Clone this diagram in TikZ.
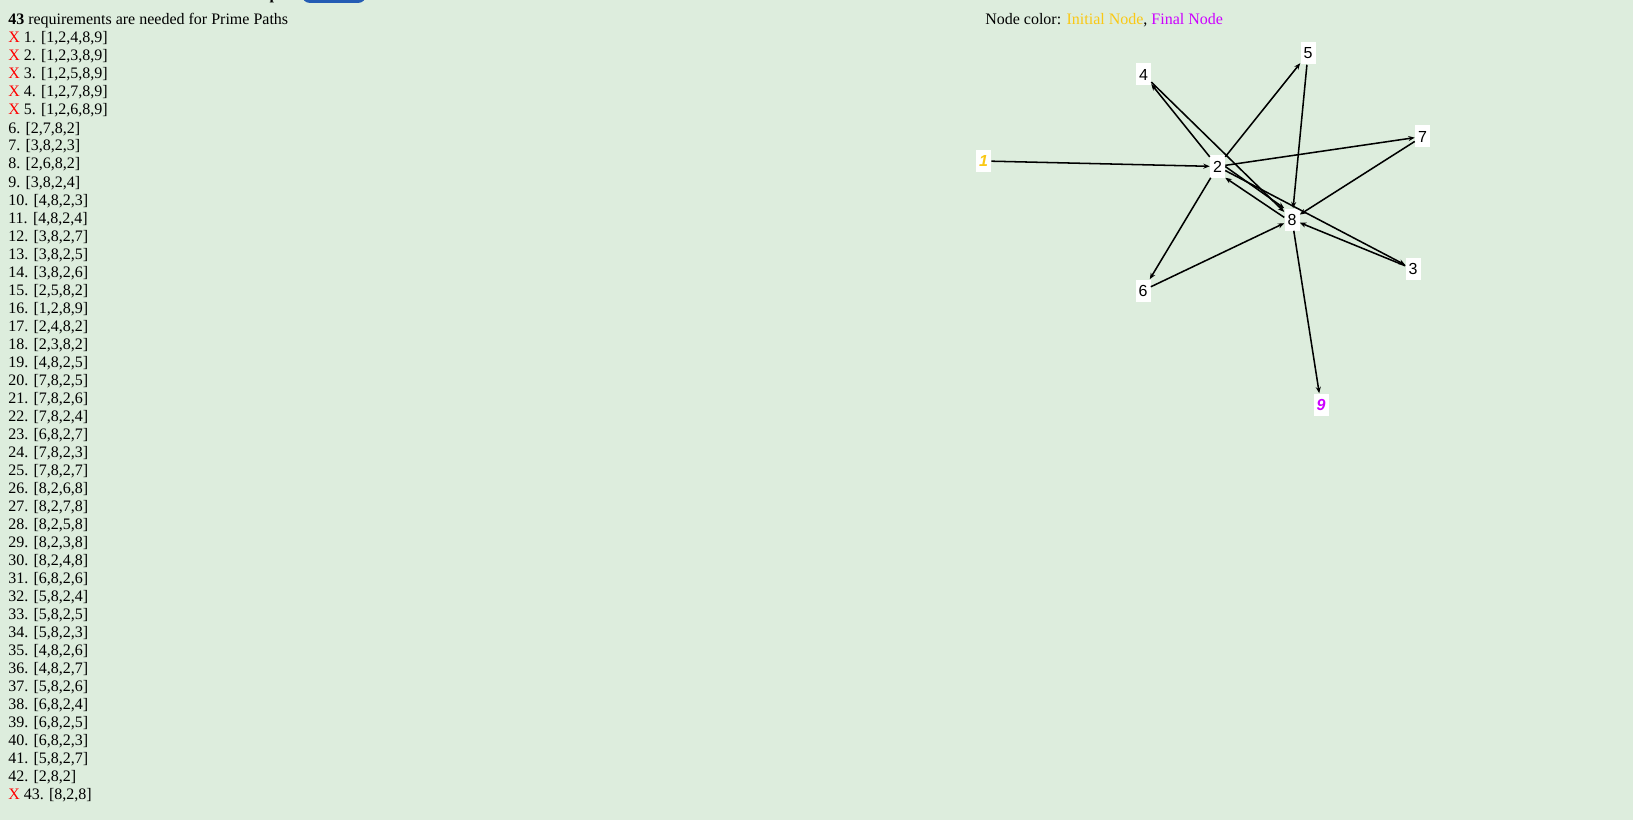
\documentclass[tikz,border=0pt]{standalone}
\usepackage{fontspec}
\setmainfont{Liberation Serif}
\setsansfont{Liberation Sans}
\usetikzlibrary{arrows.meta}
\definecolor{bgcol}{RGB}{221,237,221}
\definecolor{initcol}{RGB}{250,200,20}
\definecolor{finalcol}{RGB}{204,0,255}
\definecolor{xred}{RGB}{255,0,0}
\definecolor{btncol}{RGB}{36,92,180}
\newcommand{\failmark}{\textcolor{xred}{X}\ }
\tikzset{
  listtext/.style={anchor=base west,inner sep=0pt,font=\fontsize{12}{14.4}\selectfont},
  gnode/.style={fill=white,inner xsep=3pt*0.75,inner ysep=0pt,minimum width=11.25pt,minimum height=16.5pt,font=\sffamily\fontsize{12}{14.4}\selectfont},
  flow/.style={-{Stealth[length=4.8pt,width=3.8pt]},line width=1.15pt},
}
\begin{document}
\begin{tikzpicture}[x=0.75pt,y=-0.75pt]
\useasboundingbox (0,0) rectangle (1633,820);
\fill[bgcol] (0,0) rectangle (1633,820);
\clip (0,0) rectangle (1633,820);
% header, cut off at the top
\node[listtext,font=\bfseries\fontsize{12}{14.4}\selectfont] (share) at (198,0) {Share Graph:};
\fill[btncol,rounded corners=6pt] (302,-20) rectangle (366,3);
% requirement list
\node[listtext] (count) at (8,25) {\textbf{43} requirements are needed for Prime Paths};
\foreach \req [count=\i] in {{1,2,4,8,9},{1,2,3,8,9},{1,2,5,8,9},{1,2,7,8,9},{1,2,6,8,9},
  {2,7,8,2},{3,8,2,3},{2,6,8,2},{3,8,2,4},{4,8,2,3},{4,8,2,4},{3,8,2,7},{3,8,2,5},
  {3,8,2,6},{2,5,8,2},{1,2,8,9},{2,4,8,2},{2,3,8,2},{4,8,2,5},{7,8,2,5},{7,8,2,6},
  {7,8,2,4},{6,8,2,7},{7,8,2,3},{7,8,2,7},{8,2,6,8},{8,2,7,8},{8,2,5,8},{8,2,3,8},
  {8,2,4,8},{6,8,2,6},{5,8,2,4},{5,8,2,5},{5,8,2,3},{4,8,2,6},{4,8,2,7},{5,8,2,6},
  {6,8,2,4},{6,8,2,5},{6,8,2,3},{5,8,2,7},{2,8,2},{8,2,8}}
  \node[listtext] (req\i) at (8,25+18*\i)
    {\ifnum\i<6 \failmark\else\ifnum\i=43 \failmark\fi\fi\i. [\req]};
% legend
\node[listtext] (legend) at (985,25)
  {Node color: \textcolor{initcol}{Initial Node}, \textcolor{finalcol}{Final Node}};
% graph nodes
\node[gnode,text=initcol] (n1) at (983.5,161) {\bfseries\itshape 1};
\node[gnode] (n2) at (1217.5,166.5) {2};
\node[gnode] (n3) at (1413,269) {3};
\node[gnode] (n4) at (1143.5,74.5) {4};
\node[gnode] (n5) at (1308,53.5) {5};
\node[gnode] (n6) at (1143,290.5) {6};
\node[gnode] (n7) at (1422.5,136.5) {7};
\node[gnode] (n8) at (1292,219.5) {8};
\node[gnode,text=finalcol] (n9) at (1321,404.5) {\bfseries\itshape 9};
% edges
\draw[flow] (n1) -- (n2);
\draw[flow] (n2) -- (n4);
\draw[flow] (n4) -- (n8);
\draw[flow] (n2) -- (n5);
\draw[flow] (n5) -- (n8);
\draw[flow] (n2) -- (n7);
\draw[flow] (n7) -- (n8);
\draw[flow] (n2.east) -- (n8.north west);
\draw[flow] (n8.165) -- (n2.south east);
\draw[flow] (n2) -- (n3);
\draw[flow] (n3) -- (n8);
\draw[flow] (n2) -- (n6);
\draw[flow] (n6) -- (n8);
\draw[flow] (n8) -- (n9);
\end{tikzpicture}
\end{document}
